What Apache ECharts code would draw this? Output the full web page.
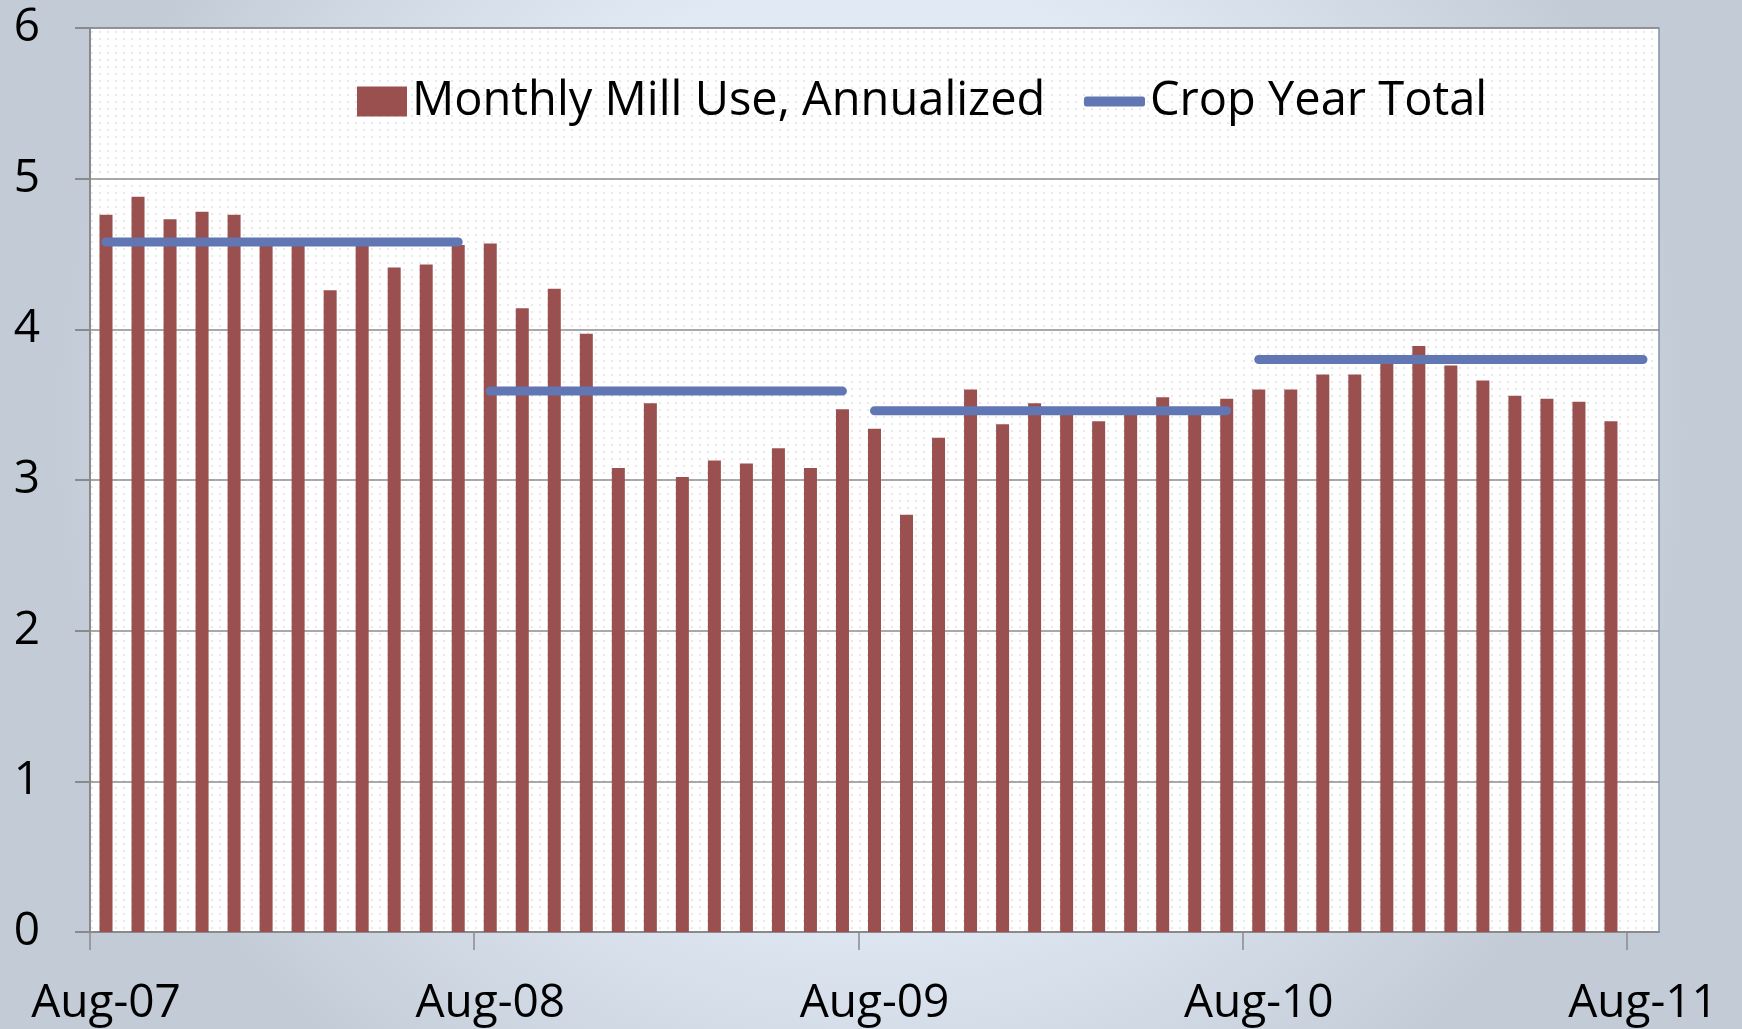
<!DOCTYPE html>
<html>
<head>
<meta charset="utf-8">
<script src="https://cdn.jsdelivr.net/npm/echarts@6/dist/echarts.min.js"></script>
<style>
html,body{margin:0;padding:0;width:1742px;height:1029px;overflow:hidden;}
#chart{width:1742px;height:1029px;}
</style>
</head>
<body>
<div id="chart"></div>
<script>
const months = ["Aug-07","Sep-07","Oct-07","Nov-07","Dec-07","Jan-08","Feb-08","Mar-08","Apr-08","May-08","Jun-08","Jul-08",
"Aug-08","Sep-08","Oct-08","Nov-08","Dec-08","Jan-09","Feb-09","Mar-09","Apr-09","May-09","Jun-09","Jul-09",
"Aug-09","Sep-09","Oct-09","Nov-09","Dec-09","Jan-10","Feb-10","Mar-10","Apr-10","May-10","Jun-10","Jul-10",
"Aug-10","Sep-10","Oct-10","Nov-10","Dec-10","Jan-11","Feb-11","Mar-11","Apr-11","May-11","Jun-11","Jul-11",
"Aug-11"];
const millUse = [4.76,4.88,4.73,4.78,4.76,4.60,4.59,4.26,4.58,4.41,4.43,4.56,
4.57,4.14,4.27,3.97,3.08,3.51,3.02,3.13,3.11,3.21,3.08,3.47,
3.34,2.77,3.28,3.60,3.37,3.51,3.48,3.39,3.46,3.55,3.47,3.54,
3.60,3.60,3.70,3.70,3.80,3.89,3.76,3.66,3.56,3.54,3.52,3.39,
null];
const cropYearTotal = [4.58, 3.59, 3.46, 3.80];
const cropYearStart = [0, 12, 24, 36];
const cropYearEnd = [11, 23, 35, 48];
const yTicks = [0,1,2,3,4,5,6];
const xTickIndices = [0, 12, 24, 36, 48];

const barName = "Monthly Mill Use, Annualized";
const lineName = "Crop Year Total";
const FONT = "Open Sans";

// dotted plot background pattern
const pc = document.createElement('canvas');
pc.width = 8; pc.height = 7;
const pctx = pc.getContext('2d');
pctx.fillStyle = '#ffffff'; pctx.fillRect(0,0,8,7);
pctx.fillStyle = '#e6e8ec'; pctx.fillRect(3,3,2,2);

const lineSeries = cropYearTotal.map((v, k) => ({
  name: lineName,
  type: 'line',
  symbol: 'none',
  showSymbol: false,
  connectNulls: false,
  lineStyle: { color: '#6177b4', width: 9, cap: 'round' },
  itemStyle: { color: '#6177b4' },
  z: 3,
  data: months.map((m, i) => (i >= cropYearStart[k] && i <= cropYearEnd[k]) ? v : null)
}));

const chart = echarts.init(document.getElementById('chart'));
chart.setOption({
  animation: false,
  backgroundColor: {
    type: 'radial', x: 0.5, y: 0.42, r: 0.8,
    colorStops: [
      { offset: 0, color: '#e5eef9' },
      { offset: 0.55, color: '#e0e9f4' },
      { offset: 1, color: '#c3cbd6' }
    ]
  },
  textStyle: { fontFamily: FONT },
  grid: {
    left: 90, right: 83, top: 28, bottom: 97,
    containLabel: false,
    outerBoundsMode: 'none',
    show: true,
    backgroundColor: { image: pc, repeat: 'repeat' },
    borderColor: '#8193ad',
    borderWidth: 1.5
  },
  legend: [
    {
      data: [barName],
      left: 352, top: 73,
      icon: 'rect',
      itemWidth: 50, itemHeight: 30, itemGap: 5,
      textStyle: { fontFamily: FONT, fontSize: 47, color: '#000' },
      itemStyle: { color: '#9b5050' }
    },
    {
      data: [lineName],
      left: 1079, top: 73,
      icon: 'roundRect',
      itemWidth: 61, itemHeight: 10,
      textStyle: { fontFamily: FONT, fontSize: 47, color: '#000' },
      itemStyle: { color: '#6177b4' }
    }
  ],
  xAxis: [
    {
      type: 'category',
      data: months,
      boundaryGap: true,
      axisLine: { lineStyle: { color: '#8a8a8a', width: 2 } },
      axisTick: { show: false },
      axisLabel: { interval: 11, margin: 49, fontFamily: FONT, fontSize: 46, color: '#000' },
      splitLine: { show: false }
    },
    {
      type: 'value',
      position: 'bottom',
      min: 0, max: months.length,
      axisLine: { show: false },
      axisLabel: { show: false },
      splitLine: { show: false },
      axisTick: { show: true, customValues: xTickIndices, length: 18, lineStyle: { color: '#8a8a8a', width: 1.5 } }
    }
  ],
  yAxis: {
    type: 'value',
    min: 0, max: 6, interval: 1,
    axisLine: { show: true, lineStyle: { color: '#8a8a8a', width: 2 } },
    axisTick: { show: true, length: 15, lineStyle: { color: '#8a8a8a', width: 2 } },
    axisLabel: { margin: 50, fontFamily: FONT, fontSize: 46, color: '#000',
      formatter: v => yTicks.includes(v) ? String(v) : '' },
    splitLine: { show: true, lineStyle: { color: '#8c8c8c', width: 1.5 } }
  },
  series: [
    {
      name: barName,
      type: 'bar',
      xAxisIndex: 0,
      data: millUse,
      barWidth: 13,
      itemStyle: { color: '#9b5050' },
      z: 2
    }
  ].concat(lineSeries)
});
</script>
</body>
</html>
